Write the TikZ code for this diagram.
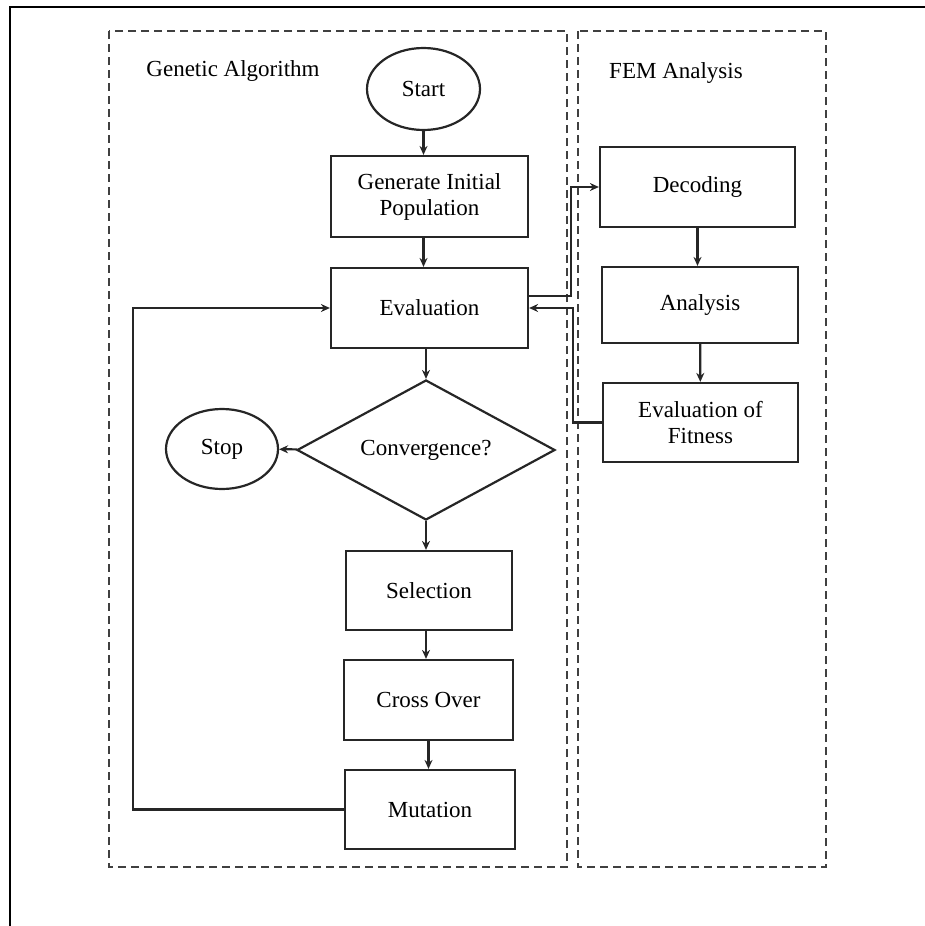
\documentclass[tikz,border=0pt]{standalone}
\usepackage{fontspec}
\setmainfont{Liberation Serif}
\usetikzlibrary{arrows.meta,shapes.geometric,positioning}

\begin{document}
\begin{tikzpicture}[x=0.5pt, y=-0.5pt, font=\fontsize{11.5}{13}\selectfont,
  box/.style = {draw=black!85, line width=1.1pt, align=center, inner sep=0pt},
  oval/.style = {draw=black!85, ellipse, line width=1.1pt, minimum width=56pt, minimum height=40pt, inner sep=0pt},
  region/.style = {draw=black!75, line width=1.2pt, dash pattern=on 4pt off 2.5pt},
  arr/.style = {draw=black!85, line width=1.1pt, -{Stealth[length=4.5pt,width=4pt]}},
  link/.style = {line width=1.1pt}]
\useasboundingbox (0,0) rectangle (925,926);
\draw[line width=0.8pt] (10,926) -- (10,7) -- (925,7);
\draw[region] (109,31) rectangle (567,867);
\draw[region] (578,31) rectangle (826,867);
\node (ga) at (233,71) {Genetic Algorithm};
\node (fem) at (676,73) {FEM Analysis};
% genetic algorithm
\node[oval, minimum width=56.5pt, minimum height=41pt] (start) at (423.5,89) {Start};
\node[box, minimum width=98.5pt, minimum height=40.5pt] (gen) at (429.5,196.5) {Generate Initial\\Population};
\node[box, minimum width=98.5pt, minimum height=40pt] (eval) at (429.5,308) {Evaluation};
\node[draw=black!85, diamond, aspect=1.84, line width=1.1pt, inner sep=0pt, minimum width=129pt, minimum height=70pt] (conv) at (426,450) {Convergence?};
\node[oval] (stop) at (222,449) {Stop};
\node[box, minimum width=83pt, minimum height=39.5pt] (sel) at (429,590.5) {Selection};
\node[box, minimum width=84.5pt, minimum height=40pt] (cross) at (428.5,700) {Cross Over};
\node[box, minimum width=85pt, minimum height=39.5pt] (mut) at (430,809.5) {Mutation};
% fem analysis
\node[box, minimum width=97.5pt, minimum height=40pt] (dec) at (697.5,187) {Decoding};
\node[box, minimum width=98pt, minimum height=38pt] (ana) at (700,305) {Analysis};
\node[box, minimum width=97.5pt, minimum height=39.5pt] (fit) at (700.5,422.5) {Evaluation of\\Fitness};
\coordinate (loop) at (133,0);
\coordinate (busout) at (571,0);
\coordinate (busin) at (573,0);
\draw[arr] (start.south) -- (start.south |- gen.north);
\draw[arr] (start.south |- gen.south) -- (start.south |- eval.north);
\draw[arr] (conv.north |- eval.south) -- (conv.north);
\draw[arr] (conv) -- (stop);
\draw[arr] (conv.south) -- (conv.south |- sel.north);
\draw[arr] (conv.south |- sel.south) -- (conv.south |- cross.north);
\draw[arr] (cross) -- (cross |- mut.north);
\draw[arr] (mut.west) -- (mut.west -| loop) |- (eval.west);
\draw[arr] ([yshift=6pt]eval.east) -- ([yshift=6pt]eval.east -| busout) |- (dec.west);
\draw[arr] (dec.south) -- (dec.south |- ana.north);
\draw[arr] (ana) -- (fit);
\draw[arr] (fit.west) -- (fit.west -| busin) |- (eval.east);
\end{tikzpicture}
\end{document}
